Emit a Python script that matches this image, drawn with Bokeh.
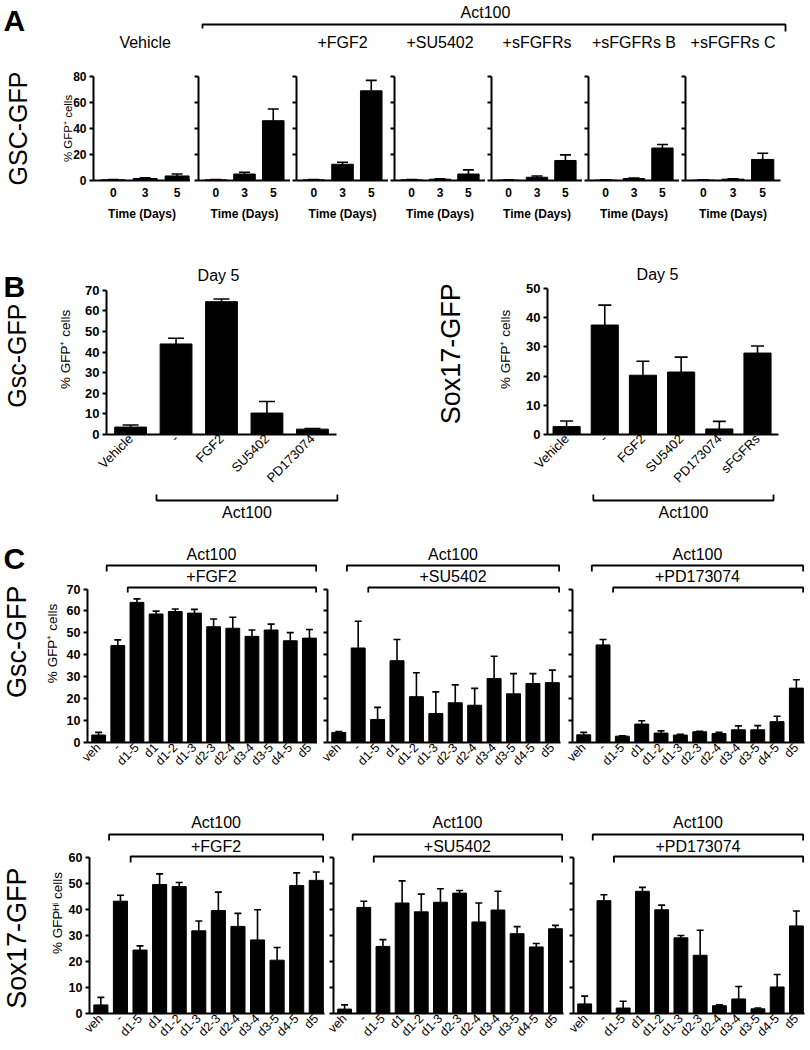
import math
from bokeh.plotting import figure
from bokeh.layouts import row, column
from bokeh.models import Range1d, FixedTicker, Whisker, TeeHead, ColumnDataSource
from bokeh.core.properties import value
from bokeh.embed import file_html
from bokeh.resources import INLINE

FONT = "Liberation Sans"

# ---------------- data ----------------
# Panel A : Gsc-GFP time course (% GFP+ cells)
a_days = ["0", "3", "5"]
a_titles = ["Vehicle", "", "+FGF2", "+SU5402", "+sFGFRs", "+sFGFRs B", "+sFGFRs C"]
a_vehicle = [0.5, 1.5, 3.5]
a_vehicle_err = [0.3, 0.5, 1.5]
a_act = [0.5, 5.0, 46.0]
a_act_err = [0.3, 1.3, 9.0]
a_fgf2 = [0.5, 12.5, 69.0]
a_fgf2_err = [0.3, 1.5, 8.0]
a_su = [0.5, 1.0, 5.0]
a_su_err = [0.3, 0.3, 3.2]
a_sfgfrs = [0.3, 2.5, 15.4]
a_sfgfrs_err = [0.2, 1.0, 4.3]
a_sfgfrs_b = [0.3, 1.5, 25.0]
a_sfgfrs_b_err = [0.2, 0.3, 2.7]
a_sfgfrs_c = [0.3, 1.0, 16.2]
a_sfgfrs_c_err = [0.2, 0.3, 4.8]

# Panel B : day 5
b_gsc_cats = ["Vehicle", "-", "FGF2", "SU5402", "PD173074"]
b_gsc = [3.6, 43.9, 64.4, 10.4, 2.6]
b_gsc_err = [1.0, 2.8, 1.3, 5.6, 0.3]
b_sox_cats = ["Vehicle", "-", "FGF2", "SU5402", "PD173074", "sFGFRs"]
b_sox = [2.7, 37.5, 20.3, 21.4, 1.9, 27.9]
b_sox_err = [1.9, 6.8, 4.8, 5.1, 2.6, 2.4]

# Panel C : timing of treatment
c_cats = ["veh", "-", "d1-5", "d1", "d1-2", "d1-3", "d2-3", "d2-4", "d3-4", "d3-5", "d4-5", "d5"]
c_gsc_fgf2 = [3.4, 44.2, 63.9, 58.6, 59.7, 59.0, 52.8, 52.1, 48.4, 51.3, 46.4, 47.6]
c_gsc_fgf2_err = [1.2, 2.6, 1.6, 1.3, 1.2, 1.7, 3.5, 5.0, 2.9, 2.7, 3.7, 3.9]
c_gsc_su = [4.6, 43.1, 10.5, 37.3, 20.9, 13.2, 18.1, 17.0, 29.2, 22.2, 26.9, 27.3]
c_gsc_su_err = [0.4, 12.2, 5.5, 9.7, 10.9, 9.9, 8.2, 7.7, 10.1, 9.2, 4.5, 5.7]
c_gsc_pd = [3.5, 44.5, 2.9, 8.4, 4.3, 3.4, 4.9, 4.1, 5.8, 5.8, 9.5, 24.8]
c_gsc_pd_err = [1.1, 2.5, 0.1, 1.5, 1.0, 0.3, 0.2, 0.6, 1.8, 1.9, 2.5, 3.8]
c_sox_fgf2 = [3.3, 43.2, 24.4, 49.6, 48.8, 31.8, 39.6, 33.5, 28.3, 20.5, 49.2, 51.2]
c_sox_fgf2_err = [2.9, 2.3, 1.6, 4.1, 1.6, 3.8, 7.1, 5.0, 11.6, 4.9, 4.9, 3.2]
c_sox_su = [1.7, 40.8, 25.8, 42.5, 39.1, 42.8, 46.3, 35.2, 39.8, 30.7, 25.6, 32.6]
c_sox_su_err = [1.6, 2.4, 2.6, 8.5, 6.8, 5.2, 1.0, 7.3, 7.2, 2.7, 1.3, 1.3]
c_sox_pd = [3.7, 43.4, 2.1, 47.0, 39.9, 29.1, 22.4, 3.0, 5.6, 1.8, 10.2, 33.7]
c_sox_pd_err = [3.0, 2.3, 2.6, 1.5, 1.8, 0.9, 9.6, 0.3, 4.8, 0.3, 4.8, 5.7]
c_treat = ["+FGF2", "+SU5402", "+PD173074"]

GFP_PLUS = "% GFP\u207a cells"
GFP_HI = "% GFP\u1d34\u2071 cells"


# ---------------- helpers ----------------
def mk_fig(box, frame, xr, yr, axes=True):
    x0, x1, y0, y1 = box
    fx0, fx1, fy0, fy1 = frame
    kw = dict(width=x1 - x0, height=y1 - y0, x_range=Range1d(*xr), y_range=Range1d(*yr),
              output_backend="svg", toolbar_location=None)
    if not axes:
        kw.update(x_axis_location=None, y_axis_location=None)
    p = figure(**kw)
    p.min_border_left = fx0 - x0
    p.min_border_right = x1 - fx1
    p.min_border_top = fy0 - y0
    p.min_border_bottom = y1 - fy1
    p.outline_line_color = None
    p.grid.grid_line_color = None
    p.background_fill_color = "white"
    p.border_fill_color = "white"
    return p


def deco(x0, x1, y0, y1):
    # decorative canvas: x in page px, y = -page px
    return mk_fig((x0, x1, y0, y1), (x0, x1, y0, y1), (x0, x1), (-y1, -y0), axes=False)


def txt(p, x, y, s, size, bold=False, angle=0.0, align="center", baseline="middle"):
    p.text(x=[x], y=[y], text=[s], text_font=value(FONT), text_font_size=value(f"{size}px"),
           text_font_style="bold" if bold else "normal", text_align=align,
           text_baseline=baseline, angle=angle, text_color="black")


def bracket(p, xa, xb, y_line, ya_tick, yb_tick, lw=1.8):
    p.line(x=[xa, xa, xb, xb], y=[ya_tick, y_line, y_line, yb_tick],
           line_color="black", line_width=lw)


def bar_plot(box, frame, xr, top_val, top_px, yticks, cats, means, errs, *, bar_w, cap,
             ytick_size=12, ytick_labels=True, ylabel=None, ylabel_size=13, ylabel_standoff=5,
             xtick_size=12, xtick_bold=False, xtick_orient="horizontal", xtick_standoff=3,
             xlabel=None, xlabel_size=12, xlabel_standoff=6):
    fx0, fx1, fy0, fy1 = frame
    y_end = top_val * (fy1 - fy0) / (fy1 - top_px)
    p = mk_fig(box, frame, xr, (0, y_end))
    idx = list(range(len(cats)))
    src = ColumnDataSource(dict(x=idx, top=means, upper=[m + e for m, e in zip(means, errs)]))
    p.vbar(x="x", top="top", bottom=0, width=bar_w, source=src,
           fill_color="black", line_color="black", line_width=1)
    wh = Whisker(source=src, base="x", lower="top", upper="upper", dimension="height",
                 line_color="black", line_width=1.6,
                 upper_head=TeeHead(size=cap, line_width=1.6, line_color="black"),
                 lower_head=None, level="glyph")
    p.add_layout(wh)

    xa = p.xaxis[0]
    xa.ticker = FixedTicker(ticks=idx)
    xa.major_label_overrides = {i: c for i, c in enumerate(cats)}
    xa.major_tick_line_color = None
    xa.minor_tick_line_color = None
    xa.major_tick_out = 0
    xa.major_tick_in = 0
    xa.axis_line_width = 2
    xa.axis_line_color = "black"
    xa.major_label_orientation = xtick_orient
    xa.major_label_text_font = FONT
    xa.major_label_text_font_size = f"{xtick_size}px"
    xa.major_label_text_font_style = "bold" if xtick_bold else "normal"
    xa.major_label_text_color = "black"
    xa.major_label_standoff = xtick_standoff
    if xlabel:
        xa.axis_label = xlabel
        xa.axis_label_text_font = FONT
        xa.axis_label_text_font_size = f"{xlabel_size}px"
        xa.axis_label_text_font_style = "bold"
        xa.axis_label_text_color = "black"
        xa.axis_label_standoff = xlabel_standoff

    ya = p.yaxis[0]
    ya.bounds = (0, top_val)
    ya.axis_line_width = 2
    ya.axis_line_color = "black"
    if ytick_labels:
        ya.ticker = FixedTicker(ticks=yticks)
        ya.major_tick_out = 4
        ya.major_tick_in = 0
        ya.major_tick_line_width = 2
        ya.major_tick_line_color = "black"
        ya.minor_tick_line_color = None
        ya.major_label_text_font = FONT
        ya.major_label_text_font_style = "bold"
        ya.major_label_text_color = "black"
        ya.major_label_text_font_size = f"{ytick_size}px"
        ya.major_label_standoff = 3
    else:
        # unlabeled ticks: drawn as minor ticks styled like major ones
        ya.ticker = FixedTicker(ticks=[], minor_ticks=yticks)
        ya.minor_tick_out = 4
        ya.minor_tick_in = 0
        ya.minor_tick_line_width = 2
        ya.minor_tick_line_color = "black"
        ya.major_tick_line_color = None
    if ylabel:
        ya.axis_label = ylabel
        ya.axis_label_text_font = FONT
        ya.axis_label_text_font_size = f"{ylabel_size}px"
        ya.axis_label_text_font_style = "normal"
        ya.axis_label_text_color = "black"
        ya.axis_label_standoff = ylabel_standoff

    sx = (fx1 - fx0) / (xr[1] - xr[0])
    sy = (fy1 - fy0) / y_end
    to_x = lambda px: xr[0] + (px - fx0) / sx
    to_y = lambda py: (fy1 - py) / sy
    from_x = lambda x: fx0 + (x - xr[0]) * sx
    return p, to_x, to_y, from_x


# ---------------- Panel A ----------------
a_means = [a_vehicle, a_act, a_fgf2, a_su, a_sfgfrs, a_sfgfrs_b, a_sfgfrs_c]
a_errs = [a_vehicle_err, a_act_err, a_fgf2_err, a_su_err, a_sfgfrs_err, a_sfgfrs_b_err, a_sfgfrs_c_err]
a_boxes = [(45, 190), (190, 290), (290, 388), (388, 485), (485, 582), (582, 679), (679, 782)]
a_frames = [(93, 190), (198, 290), (296, 388), (394, 485), (491, 582), (588, 679), (685, 780)]
A_Y0, A_Y1, A_FY0, A_FY1 = 60, 228, 76, 180

a_plots, a_fromx = [], []
for k in range(7):
    xr = (-0.62, 2.42) if k == 0 else (-0.6, 2.6)
    p, tx, ty, fx = bar_plot((a_boxes[k][0], a_boxes[k][1], A_Y0, A_Y1),
                             (a_frames[k][0], a_frames[k][1], A_FY0, A_FY1),
                             xr, 80, A_FY0, [0, 20, 40, 60, 80], a_days, a_means[k], a_errs[k],
                             bar_w=0.75, cap=11, ytick_size=12, ytick_labels=(k == 0),
                             ylabel=GFP_PLUS if k == 0 else None, ylabel_size=11.5, ylabel_standoff=-4,
                             xtick_size=12, xtick_bold=True, xtick_standoff=7,
                             xlabel="Time (Days)", xlabel_size=12, xlabel_standoff=7)
    a_plots.append(p)
    a_fromx.append(fx)

bandA = deco(45, 810, 0, 60)
txt(bandA, 485, -12, "Act100", 16)
bracket(bandA, a_frames[1][0] + 4, 785, -24, -28, -31)
for k in range(7):
    if a_titles[k]:
        txt(bandA, a_fromx[k](1), -42, a_titles[k], 16)

decoA = deco(0, 45, 0, 228)
txt(decoA, 3, -20, "A", 30, bold=True, align="left")
txt(decoA, 17, -128, "GSC-GFP", 25, angle=math.pi / 2)

rowA = row([decoA, column([bandA, row(a_plots, spacing=0)], spacing=0)], spacing=0)

# ---------------- Panel B ----------------
B_Y0, B_Y1 = 228, 493
pB1, b1x, b1y, b1fx = bar_plot((50, 345, B_Y0, B_Y1), (106, 336, 264, 441), (-0.53, 4.53),
                               70, 290.7, list(range(0, 71, 10)), b_gsc_cats, b_gsc, b_gsc_err,
                               bar_w=0.70, cap=16, ytick_size=13, ylabel=GFP_PLUS, ylabel_size=13.5,
                               ylabel_standoff=9, xtick_size=13, xtick_orient=math.pi / 4,
                               xtick_standoff=2)
txt(pB1, b1x(218), b1y(275), "Day 5", 16)
pB2, b2x, b2y, b2fx = bar_plot((480, 790, B_Y0, B_Y1), (547, 778, 264, 443), (-0.5, 5.55),
                               50, 289.3, list(range(0, 51, 10)), b_sox_cats, b_sox, b_sox_err,
                               bar_w=0.71, cap=13, ytick_size=13, ylabel=GFP_PLUS, ylabel_size=13.5,
                               ylabel_standoff=10, xtick_size=13, xtick_orient=math.pi / 4,
                               xtick_standoff=2)
txt(pB2, b2x(657), b2y(275), "Day 5", 16)

decoB1 = deco(0, 50, B_Y0, B_Y1)
txt(decoB1, 3, -262, "B", 30, bold=True, align="left")
txt(decoB1, 16, -370, "Gsc-GFP", 25, angle=math.pi / 2)
decoB2 = deco(345, 480, B_Y0, B_Y1)
txt(decoB2, 450, -367, "Sox17-GFP", 27, angle=math.pi / 2)
rowB = row([decoB1, pB1, decoB2, pB2], spacing=0)

bandB = deco(0, 808, 493, 525)
for fxm, (xa_, xb_) in [(b1fx, (0.57, 4.55)), (b2fx, (0.70, 5.42))]:
    xa_px, xb_px = fxm(xa_), fxm(xb_)
    bracket(bandB, xa_px, xb_px, -500, -494, -494)
    txt(bandB, (xa_px + xb_px) / 2, -512, "Act100", 16)


# ---------------- Panel C ----------------
def c_row(y0, y1, fy0, fy1, top_val, top_px, frames, boxes, series, errs, ylabel, ylab_standoff,
          ly):  # ly: (act_text, outer_line, outer_tick, treat_text, inner_line, inner_tick)
    plots = []
    for k in range(3):
        p, tx, ty, fx = bar_plot((boxes[k][0], boxes[k][1], y0, y1),
                                 (frames[k][0], frames[k][1], fy0, fy1),
                                 (-0.58, 11.42), top_val, top_px, list(range(0, top_val + 1, 10)),
                                 c_cats, series[k], errs[k], bar_w=0.72, cap=7,
                                 ytick_size=12.5, ytick_labels=(k == 0),
                                 ylabel=ylabel if k == 0 else None, ylabel_size=13.5,
                                 ylabel_standoff=ylab_standoff, xtick_size=12.5,
                                 xtick_orient=math.pi / 4, xtick_standoff=3)
        xo0, xi0, xe = 0.42, 1.52, 11.35
        bracket(p, xo0, xe, ty(ly[1]), ty(ly[2]), ty(ly[2]))
        bracket(p, xi0, xe, ty(ly[4]), ty(ly[5]), ty(ly[5]))
        xm = (xo0 + xe) / 2
        txt(p, xm, ty(ly[0]), "Act100", 16)
        txt(p, xm, ty(ly[3]), c_treat[k], 16)
        plots.append(p)
    return plots


c1 = c_row(525, 800, 544, 742, 70, 588.5,
           [(87, 317), (327, 560), (572, 804)], [(40, 317), (317, 562), (562, 808)],
           [c_gsc_fgf2, c_gsc_su, c_gsc_pd], [c_gsc_fgf2_err, c_gsc_su_err, c_gsc_pd_err],
           GFP_PLUS, 4, (554, 565, 571, 576, 587, 592))
decoC1 = deco(0, 40, 525, 800)
txt(decoC1, 3, -544, "C", 30, bold=True, align="left")
txt(decoC1, 16, -660, "Gsc-GFP", 27, angle=math.pi / 2)
rowC1 = row([decoC1] + c1, spacing=0)

c2 = c_row(800, 1048, 812, 1013, 60, 857,
           [(89, 324), (333, 563), (573, 804)], [(40, 325), (325, 566), (566, 808)],
           [c_sox_fgf2, c_sox_su, c_sox_pd], [c_sox_fgf2_err, c_sox_su_err, c_sox_pd_err],
           GFP_HI, 1, (822, 834, 840, 846, 856, 862))
decoC2 = deco(0, 40, 800, 1048)
txt(decoC2, 16, -955, "Sox17-GFP", 27, angle=math.pi / 2)
rowC2 = row([decoC2] + c2, spacing=0)

page = column([rowA, rowB, bandB, rowC1, rowC2], spacing=0)

open("out.html", "w").write(file_html(page, INLINE))
